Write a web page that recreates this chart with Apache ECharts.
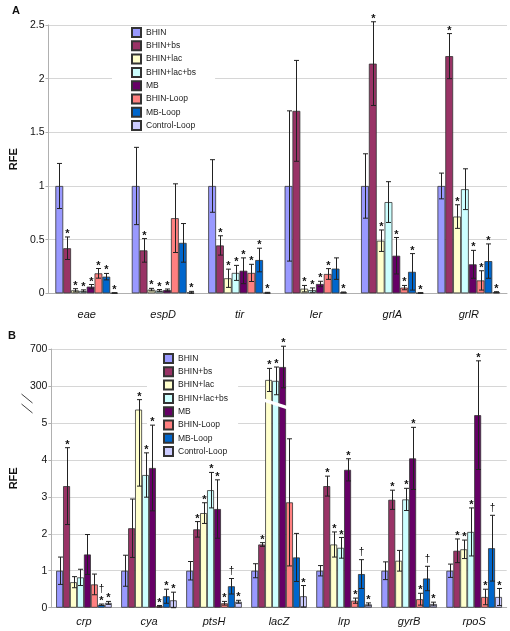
<!DOCTYPE html>
<html><head><meta charset="utf-8">
<script src="https://cdn.jsdelivr.net/npm/echarts@6/dist/echarts.min.js"></script>
<style>html,body{margin:0;padding:0;background:#fff}#c{width:510px;height:631px}</style>
</head><body><div id="c"></div><script>
// ---------- DATA ----------
const conditions = ['BHIN','BHIN+bs','BHIN+lac','BHIN+lac+bs','MB','BHIN-Loop','MB-Loop','Control-Loop'];
const colors = ['#9999FF','#993366','#FFFFCC','#CCFFFF','#660066','#FF8080','#0066CC','#CCCCFF'];

// Panel A
const genesA = ['eae','espD','tir','ler','grlA','grlR'];
const A_BHIN        = [1, 1, 1, 1, 1, 1];
const A_BHINbs      = [0.42, 0.40, 0.446, 1.70, 2.14, 2.21];
const A_BHINlac     = [0.028, 0.034, 0.14, 0.043, 0.49, 0.715];
const A_BHINlacbs   = [0.022, 0.025, 0.19, 0.03, 0.85, 0.97];
const A_MB          = [0.062, 0.03, 0.21, 0.087, 0.35, 0.27];
const A_BHINLoop    = [0.186, 0.70, 0.19, 0.18, 0.053, 0.12];
const A_MBLoop      = [0.155, 0.47, 0.31, 0.23, 0.20, 0.30];
const A_CtrlLoop    = [0.003, 0.008, 0.005, 0.008, 0.003, 0.01];

const A_BHIN_err      = [0.21, 0.36, 0.245, 0.70, 0.30, 0.12];
const A_BHINbs_err    = [0.105, 0.11, 0.09, 0.47, 0.39, 0.21];
const A_BHINlac_err   = [0.015, 0.012, 0.085, 0.03, 0.10, 0.11];
const A_BHINlacbs_err = [0.01, 0.01, 0.07, 0.02, 0.19, 0.19];
const A_MB_err        = [0.02, 0.01, 0.12, 0.025, 0.17, 0.13];
const A_BHINLoop_err  = [0.045, 0.32, 0.08, 0.05, 0.02, 0.09];
const A_MBLoop_err    = [0.03, 0.18, 0.11, 0.10, 0.17, 0.16];
const A_CtrlLoop_err  = [0.002, 0.01, 0.004, 0.004, 0.003, 0.005];

const A_BHIN_mark      = ['', '', '', '', '', ''];
const A_BHINbs_mark    = ['*', '*', '*', '', '*', '*'];
const A_BHINlac_mark   = ['*', '*', '*', '*', '*', '*'];
const A_BHINlacbs_mark = ['*', '*', '*', '*', '', ''];
const A_MB_mark        = ['*', '*', '*', '*', '*', '*'];
const A_BHINLoop_mark  = ['*', '', '*', '*', '*', '*'];
const A_MBLoop_mark    = ['*', '', '*', '', '*', '*'];
const A_CtrlLoop_mark  = ['*', '*', '*', '*', '*', '*'];

const A_ticks = ['0', '0.5', '1', '1.5', '2', '2.5'];

// Panel B (broken axis: 0-5 linear, then 300 and 700)
const genesB = ['crp','cya','ptsH','lacZ','lrp','gyrB','rpoS'];
const B_BHIN        = [1, 1, 1, 1, 1, 1, 1];
const B_BHINbs      = [3.29, 2.15, 2.12, 1.71, 3.29, 2.92, 1.54];
const B_BHINlac     = [0.69, 5.36, 2.56, 365, 1.71, 1.27, 1.58];
const B_BHINlacbs   = [0.82, 3.59, 3.18, 355, 1.62, 2.93, 2.05];
const B_MB          = [1.44, 3.78, 2.67, 505, 3.73, 4.04, 5.21];
const B_BHINLoop    = [0.63, 0.04, 0.12, 2.85, 0.19, 0.23, 0.29];
const B_MBLoop      = [0.08, 0.31, 0.58, 1.36, 0.91, 0.79, 1.61];
const B_CtrlLoop    = [0.13, 0.20, 0.16, 0.31, 0.09, 0.10, 0.29];

const B_BHIN_err      = [0.37, 0.42, 0.25, 0.19, 0.14, 0.24, 0.18];
const B_BHINbs_err    = [1.04, 0.79, 0.21, 0.05, 0.27, 0.26, 0.32];
const B_BHINlac_err   = [0.15, [2.07, 0.27], 0.28, 125, 0.34, 0.28, 0.25];
const B_BHINlacbs_err = [0.22, 0.60, 0.48, 150, 0.28, 0.30, 0.65];
const B_MB_err        = [0.54, 1.16, 0.79, 225, 0.30, 0.84, 1.47];
const B_BHINLoop_err  = [0.28, 0.02, 0.05, 1.72, 0.07, 0.16, 0.21];
const B_MBLoop_err    = [0.02, 0.19, 0.21, 0.65, 0.39, 0.33, 0.89];
const B_CtrlLoop_err  = [0.04, 0.22, 0.04, 0.29, 0.04, 0.05, 0.23];

const B_BHIN_mark      = ['', '', '', '', '', '', ''];
const B_BHINbs_mark    = ['*', '', '*', '*', '*', '*', '*'];
const B_BHINlac_mark   = ['', '*', '*', '*', '*', '', '*'];
const B_BHINlacbs_mark = ['', '*', '*', '*', '*', '*', '*'];
const B_MB_mark        = ['', '*', '*', '*', '*', '*', '*'];
const B_BHINLoop_mark  = ['', '*', '*', '', '*', '*', '*'];
const B_MBLoop_mark    = ['†*', '*', '†', '', '†', '†', '†'];
const B_CtrlLoop_mark  = ['*', '*', '*', '*', '*', '*', '*'];

const B_ticks = ['0', '1', '2', '3', '4', '5', '300', '700'];

// ---------- BUILD ----------
const A_vals = [A_BHIN, A_BHINbs, A_BHINlac, A_BHINlacbs, A_MB, A_BHINLoop, A_MBLoop, A_CtrlLoop];
const A_errs = [A_BHIN_err, A_BHINbs_err, A_BHINlac_err, A_BHINlacbs_err, A_MB_err, A_BHINLoop_err, A_MBLoop_err, A_CtrlLoop_err];
const A_marks = [A_BHIN_mark, A_BHINbs_mark, A_BHINlac_mark, A_BHINlacbs_mark, A_MB_mark, A_BHINLoop_mark, A_MBLoop_mark, A_CtrlLoop_mark];
const B_vals = [B_BHIN, B_BHINbs, B_BHINlac, B_BHINlacbs, B_MB, B_BHINLoop, B_MBLoop, B_CtrlLoop];
const B_errs = [B_BHIN_err, B_BHINbs_err, B_BHINlac_err, B_BHINlacbs_err, B_MB_err, B_BHINLoop_err, B_MBLoop_err, B_CtrlLoop_err];
const B_marks = [B_BHIN_mark, B_BHINbs_mark, B_BHINlac_mark, B_BHINlacbs_mark, B_MB_mark, B_BHINLoop_mark, B_MBLoop_mark, B_CtrlLoop_mark];

// broken-axis transform for panel B: linear up to the break, then 300->6, 700->7
function fB(v) { return v <= 6 ? v : 6 + (v - 300) / 400; }
function fA(v) { return v; }
function whisker(v, e, f) {
  const lo = Array.isArray(e) ? e[0] : e, hi = Array.isArray(e) ? e[1] : e;
  if (v <= 6) return [Math.max(0, v - lo), v + hi];
  return [f(v - lo), f(v + hi)];
}

const GAP_A = 0.18, GAP_B = 0.145;
const FONT = 'Liberation Sans, Arial, sans-serif';

function makeErrSeries(vals, errs, marks, f, gap, idx) {
  const data = [], mk = [];
  vals.forEach((arr, s) => arr.forEach((v, i) => {
    const w = whisker(v, errs[s][i], f);
    data.push([i, s, w[0], w[1]]);
    mk.push(marks[s][i]);
  }));
  return {
    type: 'custom', xAxisIndex: idx, yAxisIndex: idx, z: 5, silent: true,
    encode: { x: 0, y: [2, 3] },
    data: data,
    renderItem: function (params, api) {
      const cat = api.value(0), s = api.value(1);
      const c = api.coord([cat, 0]);
      const catW = api.size([1, 0])[0];
      const bw = catW * (1 - gap) / 8;
      const x = Math.round(c[0] + (s - 3.5) * bw) + 0.5;
      const yLo = api.coord([cat, api.value(2)])[1];
      const yHi = api.coord([cat, api.value(3)])[1];
      const cap = 2.5;
      const st = { stroke: '#222', lineWidth: 1 };
      const ch = [
        { type: 'line', shape: { x1: x, y1: yLo, x2: x, y2: yHi }, style: st },
        { type: 'line', shape: { x1: x - cap, y1: yHi, x2: x + cap, y2: yHi }, style: st },
        { type: 'line', shape: { x1: x - cap, y1: yLo, x2: x + cap, y2: yLo }, style: st }
      ];
      const m = mk[params.dataIndex];
      let yy = yHi;
      if (m.indexOf('*') >= 0) {
        ch.push({ type: 'text', style: { text: '*', x: x, y: yy - 3, align: 'center', verticalAlign: 'middle', fontSize: 11, fontWeight: 'bold', fontFamily: FONT, fill: '#111' } });
        yy -= 8;
      }
      if (m.indexOf('†') >= 0) {
        ch.push({ type: 'text', style: { text: '†', x: x, y: yy - 7, align: 'center', verticalAlign: 'middle', fontSize: 10, fontFamily: FONT, fill: '#111' } });
      }
      return { type: 'group', children: ch };
    }
  };
}

const series = [];
conditions.forEach((name, s) => {
  const common = { type: 'bar', name: name, barGap: '0%', itemStyle: { color: colors[s], borderColor: '#333', borderWidth: 0.8 } };
  series.push(Object.assign({}, common, { xAxisIndex: 0, yAxisIndex: 0, barCategoryGap: (GAP_A * 100) + '%', data: A_vals[s].slice() }));
});
conditions.forEach((name, s) => {
  const common = { type: 'bar', name: name, barGap: '0%', itemStyle: { color: colors[s], borderColor: '#333', borderWidth: 0.8 } };
  series.push(Object.assign({}, common, { xAxisIndex: 1, yAxisIndex: 1, barCategoryGap: (GAP_B * 100) + '%', data: B_vals[s].map(fB) }));
});
series.push(makeErrSeries(A_vals, A_errs, A_marks, fA, GAP_A, 0));
series.push(makeErrSeries(B_vals, B_errs, B_marks, fB, GAP_B, 1));

const axisGray = '#b0b0b0';
function xAx(idx, cats, margin) {
  return {
    type: 'category', gridIndex: idx, data: cats,
    axisLine: { lineStyle: { color: axisGray } },
    axisTick: { length: 3, lineStyle: { color: axisGray } },
    axisLabel: { fontStyle: 'italic', fontSize: 11, color: '#111', fontFamily: FONT, margin: margin }
  };
}
function yAx(idx, max, interval, ticks, step) {
  return {
    type: 'value', gridIndex: idx, min: 0, max: max, interval: interval,
    name: 'RFE', nameLocation: 'middle', nameGap: 23, nameRotate: 90,
    nameTextStyle: { fontWeight: 'bold', fontSize: 11, color: '#111', fontFamily: FONT },
    axisLine: { show: true, lineStyle: { color: axisGray } },
    axisTick: { show: true, length: 3, lineStyle: { color: axisGray } },
    splitLine: { lineStyle: { color: '#d6d6d6' } },
    axisLabel: { fontSize: 10.5, color: '#111', fontFamily: FONT, margin: 4,
      formatter: function (v) { return ticks[Math.round(v / step)]; } }
  };
}

const chart = echarts.init(document.getElementById('c'), null, { renderer: 'canvas' });
const legendCommon = {
  orient: 'vertical', itemWidth: 9, itemHeight: 9, itemGap: 2.3, data: conditions,
  backgroundColor: '#fff', selectedMode: false,
  textStyle: { fontSize: 8.5, color: '#222', fontFamily: FONT }, icon: 'rect'
};
chart.setOption({
  animation: false,
  backgroundColor: '#fff',
  title: [
    { text: 'A', left: 7, top: 0, textStyle: { fontSize: 11, fontWeight: 'bold', color: '#111', fontFamily: FONT } },
    { text: 'B', left: 3, top: 325, textStyle: { fontSize: 11, fontWeight: 'bold', color: '#111', fontFamily: FONT } }
  ],
  legend: [
    Object.assign({}, legendCommon, { left: 112, top: 26, padding: [1, 19, 1, 19] }),
    Object.assign({}, legendCommon, { left: 147, top: 351, padding: [2, 10, 2, 16] })
  ],
  grid: [
    { left: 30.7, right: 3, top: 25, bottom: 337.7 },
    { left: 28, right: 3.3, top: 349, bottom: 23.3 }
  ],
  xAxis: [xAx(0, genesA, 16), xAx(1, genesB, 9)],
  yAxis: [yAx(0, 2.5, 0.5, A_ticks, 0.5), yAx(1, 7, 1, B_ticks, 1)],
  series: series
});

// axis break decorations (panel B)
(function () {
  const g = [];
  const gridLeft = 28;
  [5.66, 5.39].forEach(function (u) {
    const y = chart.convertToPixel({ yAxisIndex: 1 }, u);
    g.push({ type: 'line', shape: { x1: gridLeft - 6.5, y1: y - 4.5, x2: gridLeft + 4.5, y2: y + 4.5 }, style: { stroke: '#444', lineWidth: 1 }, z: 10 });
  });
  const c = chart.convertToPixel({ xAxisIndex: 1 }, 'lacZ');
  const catW = chart.convertToPixel({ xAxisIndex: 1 }, 'lrp') - c;
  const bw = catW * (1 - GAP_B) / 8;
  const x1 = c - 2 * bw - 1.5, x2 = c + bw + 1.5;
  const y1 = chart.convertToPixel({ yAxisIndex: 1 }, 5.67), y2 = chart.convertToPixel({ yAxisIndex: 1 }, 5.46);
  g.push({ type: 'polygon', shape: { points: [[x1, y1], [x2, y2], [x2, y2 + 3.5], [x1, y1 + 3.5]] }, style: { fill: '#fff' }, z: 10 });
  chart.setOption({ graphic: g });
})();
</script></body></html>
